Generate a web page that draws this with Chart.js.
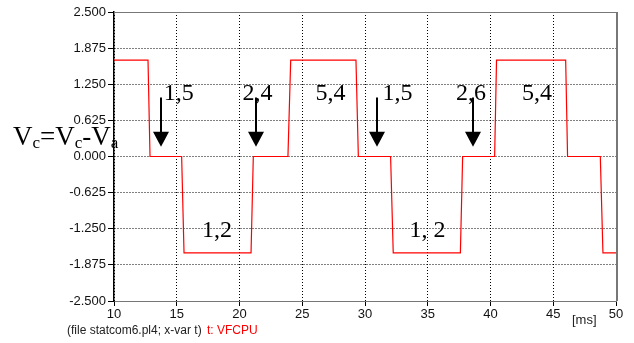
<!DOCTYPE html>
<html>
<head>
<meta charset="utf-8">
<script src="https://cdn.jsdelivr.net/npm/chart.js@4"></script>
<style>
  html, body { margin: 0; padding: 0; background: #fff; }
  #wrap { width: 634px; height: 343px; }
</style>
</head>
<body>
<div id="wrap"><canvas id="vcChart" width="634" height="343"></canvas></div>
<script>
// Waveform Vc, time in ms
const timeMs = [10, 12.71, 12.87, 15.39, 15.58, 20.92, 21.10, 23.86, 24.08, 29.28, 29.47,
                32.04, 32.25, 37.60, 37.78, 40.33, 40.48, 45.99, 46.14, 48.75, 48.96, 50];
const vcValues = [1.667, 1.667, 0, 0, -1.667, -1.667, 0, 0, 1.667, 1.667, 0,
                  0, -1.667, -1.667, 0, 0, 1.667, 1.667, 0, 0, -1.667, -1.667];

// Axis ticks
const xTicks = [10, 15, 20, 25, 30, 35, 40, 45, 50];
const yTicks = [-2.5, -1.875, -1.25, -0.625, 0, 0.625, 1.25, 1.875, 2.5];

// Annotations: switch states text and arrows
const stateLabels = ['1,5', '2,4', '5,4', '1,5', '2,6', '5,4', '1,2', '1, 2'];
const stateLabelX = [15.15, 21.43, 27.25, 32.59, 38.45, 43.71, 18.2, 34.98];
const stateLabelY = [0.98, 0.98, 0.98, 0.98, 0.98, 0.98, -1.39, -1.39];
const arrowX = [13.75, 21.31, 30.96, 38.6];
const arrowTop = 1.02;
const arrowTip = 0.17;

const points = timeMs.map((t, i) => ({ x: t, y: vcValues[i] }));

// Draws frame, annotations and footer texts
const annotationPlugin = {
    id: 'annotations',
    afterDraw(chart) {
        const ctx = chart.ctx;
        const xs = chart.scales.x;
        const ys = chart.scales.y;
        const area = chart.chartArea;
        ctx.save();

        // top and right frame
        ctx.strokeStyle = '#777';
        ctx.lineWidth = 1;
        ctx.beginPath();
        ctx.moveTo(area.left, area.top + 0.5);
        ctx.lineTo(area.right, area.top + 0.5);
        ctx.stroke();
        ctx.lineWidth = 2;
        ctx.beginPath();
        ctx.moveTo(area.right + 1, area.top);
        ctx.lineTo(area.right + 1, area.bottom);
        ctx.stroke();

        // arrows
        ctx.fillStyle = '#000';
        ctx.strokeStyle = '#000';
        arrowX.forEach(t => {
            const px = Math.round(xs.getPixelForValue(t));
            const top = ys.getPixelForValue(arrowTop);
            const tip = ys.getPixelForValue(arrowTip);
            ctx.lineWidth = 2;
            ctx.beginPath();
            ctx.moveTo(px, top);
            ctx.lineTo(px, tip - 10);
            ctx.stroke();
            ctx.beginPath();
            ctx.moveTo(px - 8, tip - 15);
            ctx.lineTo(px + 8, tip - 15);
            ctx.lineTo(px, tip);
            ctx.closePath();
            ctx.fill();
        });

        // state labels
        ctx.font = '24px "Liberation Serif", serif';
        ctx.textAlign = 'center';
        ctx.textBaseline = 'alphabetic';
        stateLabels.forEach((s, i) => {
            ctx.fillText(s, xs.getPixelForValue(stateLabelX[i]), ys.getPixelForValue(stateLabelY[i]));
        });

        // Vc = Vc - Va
        const base = ys.getPixelForValue(0.2);
        const parts = [['V', 0], ['c', 1], ['=', 0], ['V', 0], ['c', 1], ['-', 0], ['V', 0], ['a', 1]];
        let cx = 13;
        ctx.textAlign = 'left';
        parts.forEach(([txt, sub]) => {
            ctx.font = sub ? '17px "Liberation Serif", serif' : '27px "Liberation Serif", serif';
            ctx.fillText(txt, cx, base + (sub ? 3 : 0));
            cx += ctx.measureText(txt).width;
        });

        // unit and footer
        ctx.font = '13px "Liberation Sans", Arial, sans-serif';
        ctx.fillStyle = '#222';
        ctx.textBaseline = 'middle';
        ctx.fillText('[ms]', 572, 320);
        ctx.font = '12px "Liberation Sans", Arial, sans-serif';
        ctx.fillText('(file statcom6.pl4; x-var t)', 67, 331);
        ctx.fillStyle = '#ff0000';
        ctx.fillText('t: VFCPU', 207, 331);
        ctx.restore();
    }
};

const ctx = document.getElementById('vcChart').getContext('2d');
const vcChart = new Chart(ctx, {
    type: 'line',
    data: {
        datasets: [{
            label: 'VFCPU',
            data: points,
            borderColor: '#ff0000',
            borderWidth: 1.2,
            pointRadius: 0,
            fill: false,
            tension: 0
        }]
    },
    options: {
        responsive: false,
        animation: false,
        events: [],
        layout: { padding: { top: 12, right: 18, left: 0, bottom: 0 } },
        plugins: {
            legend: { display: false },
            tooltip: { enabled: false }
        },
        scales: {
            x: {
                type: 'linear',
                min: 10,
                max: 50,
                afterFit(scale) { scale.height = 42; },
                afterBuildTicks(scale) { scale.ticks = xTicks.map(v => ({ value: v })); },
                ticks: {
                    color: '#111',
                    font: { family: '"Liberation Sans", Arial, sans-serif', size: 13 },
                    padding: 1,
                    maxRotation: 0,
                    callback: v => String(v)
                },
                grid: {
                    color: '#000',
                    lineWidth: 1,
                    tickLength: 5,
                    tickColor: '#000',
                    tickBorderDash: []
                },
                // dash applies to the grid lines in v4
                border: { color: '#777', width: 1, dash: [1, 2] }
            },
            y: {
                min: -2.5,
                max: 2.5,
                afterFit(scale) { scale.width = 114; },
                afterBuildTicks(scale) { scale.ticks = yTicks.map(v => ({ value: v })); },
                ticks: {
                    color: '#111',
                    font: { family: '"Liberation Sans", Arial, sans-serif', size: 13 },
                    padding: 2,
                    callback: v => v.toFixed(3)
                },
                grid: {
                    color: '#000',
                    lineWidth: 1,
                    tickLength: 6,
                    tickColor: '#000',
                    tickBorderDash: []
                },
                border: { color: '#000', width: 1.5, dash: [1, 2] }
            }
        }
    },
    plugins: [annotationPlugin]
});
</script>
</body>
</html>
